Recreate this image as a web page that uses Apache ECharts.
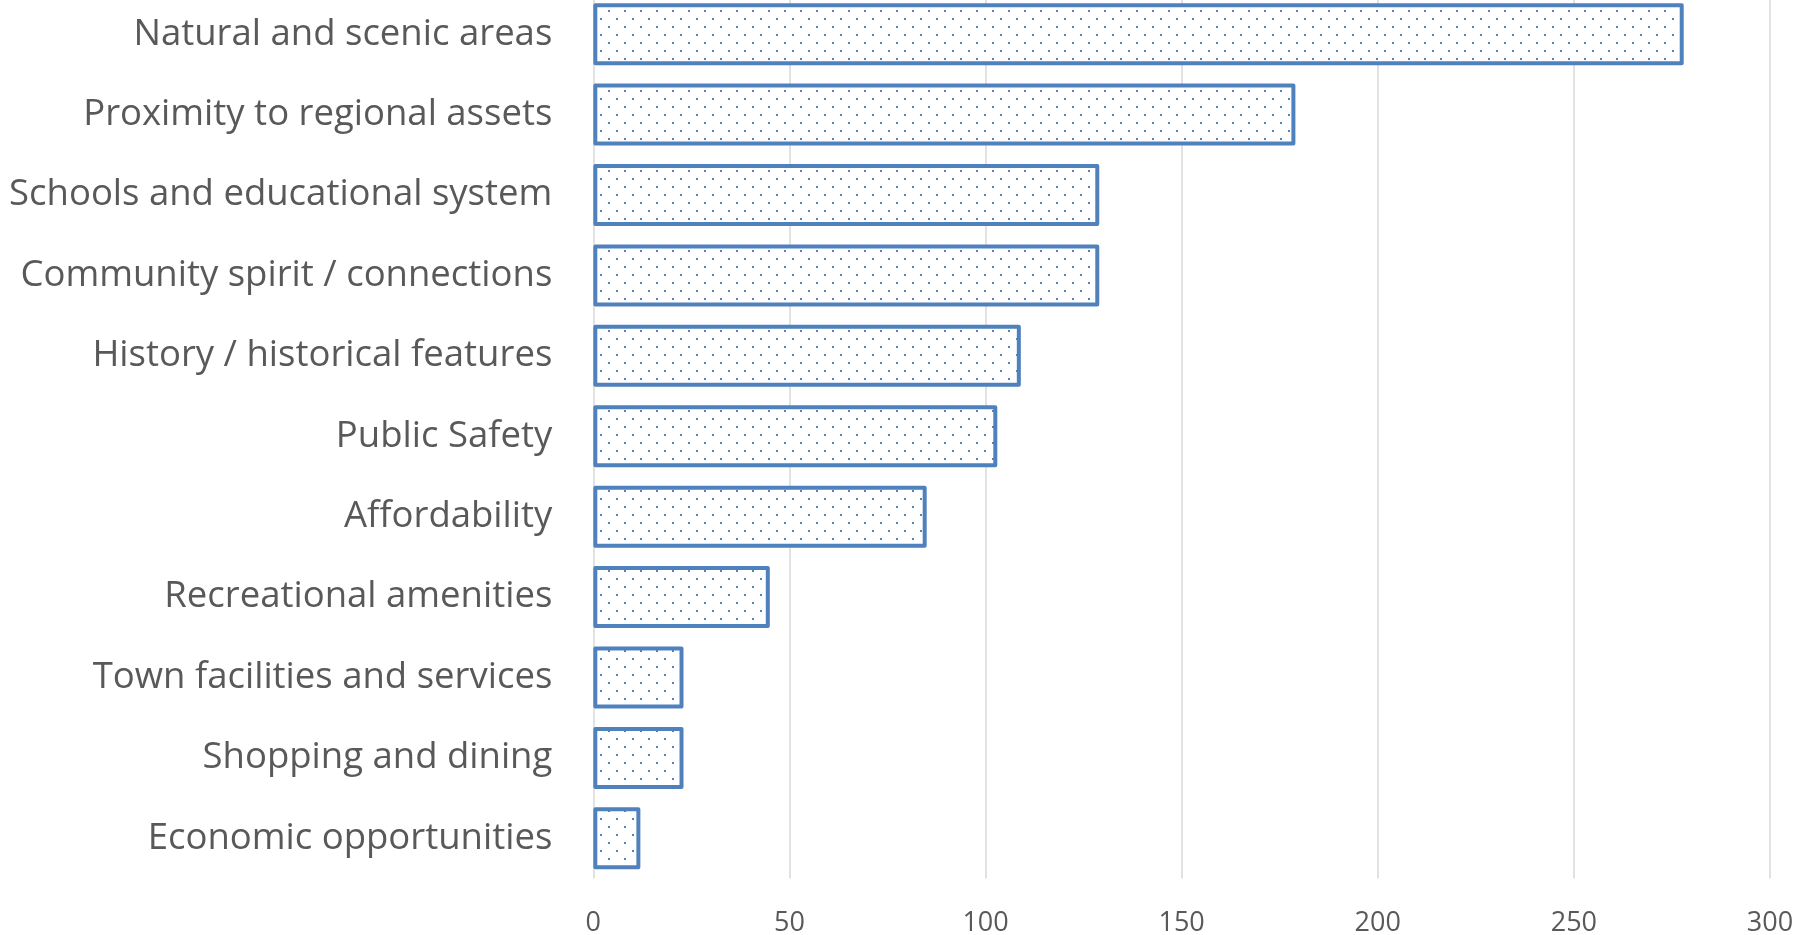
<!DOCTYPE html>
<html>
<head>
<meta charset="utf-8">
<script src="https://cdn.jsdelivr.net/npm/echarts@6/dist/echarts.min.js"></script>
<style>
html,body{margin:0;padding:0;background:#fff;overflow:hidden;}
#chart{width:1799px;height:941px;margin-top:-6px;}
</style>
</head>
<body>
<div id="chart"></div>
<script>
const categories = [
  "Natural and scenic areas",
  "Proximity to regional assets",
  "Schools and educational system",
  "Community spirit / connections",
  "History / historical features",
  "Public Safety",
  "Affordability",
  "Recreational amenities",
  "Town facilities and services",
  "Shopping and dining",
  "Economic opportunities"
];
const values = [278, 179, 129, 129, 109, 103, 85, 45, 23, 23, 12];
const xTicks = [0, 50, 100, 150, 200, 250, 300];

const blue = '#4f81bd';
const pc = document.createElement('canvas');
pc.width = 16; pc.height = 16;
const ctx = pc.getContext('2d');
ctx.fillStyle = '#ffffff';
ctx.fillRect(0, 0, 16, 16);
ctx.fillStyle = blue;
ctx.fillRect(0, 0, 2, 2);
ctx.fillRect(8, 8, 2, 2);

const chart = echarts.init(document.getElementById('chart'));
chart.setOption({
  animation: false,
  backgroundColor: '#ffffff',
  grid: { left: 593.3, right: 29, top: 0, bottom: 56.5, containLabel: false, outerBoundsMode: 'none' },
  xAxis: {
    type: 'value',
    min: xTicks[0],
    max: xTicks[xTicks.length - 1],
    interval: xTicks[1] - xTicks[0],
    axisLine: { show: false },
    axisTick: { show: false },
    splitLine: { show: true, lineStyle: { color: '#d9d9d9', width: 1.5 } },
    axisLabel: {
      color: '#595959', fontFamily: 'Open Sans', fontSize: 27, margin: 31
    }
  },
  yAxis: {
    type: 'category',
    data: categories,
    inverse: true,
    axisLine: { show: false },
    axisTick: { show: false },
    splitLine: { show: false },
    axisLabel: {
      color: '#595959', fontFamily: 'Open Sans', fontSize: 36.5, margin: 41,
      padding: [10, 0, 0, 0]
    }
  },
  series: [{
    type: 'bar',
    data: values,
    barWidth: 62,
    itemStyle: {
      color: { image: pc, repeat: 'repeat' },
      borderColor: blue,
      borderWidth: 4,
      borderJoin: 'round'
    }
  }]
});
</script>
</body>
</html>
